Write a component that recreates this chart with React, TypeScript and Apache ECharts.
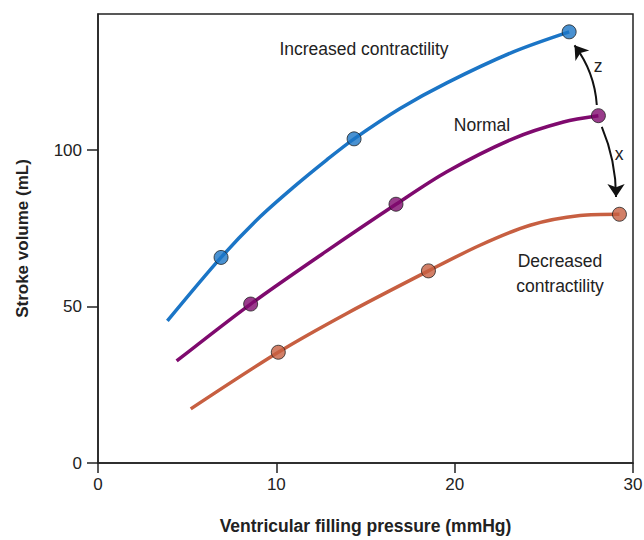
import React, { useEffect, useRef } from "react";
import * as echarts from "echarts";

// Curve points (x: mmHg, y: mL)
const increasedCurve: [number, number][] = [
  [3.89, 45.4], [6.9, 65.7], [9.09, 78.7], [10.95, 88.1], [12.83, 96.9], [14.36, 103.6],
  [16.94, 113.3], [19.56, 121.5], [23.29, 131.4], [26.42, 137.8],
];
const increasedMarkers: [number, number][] = [[6.9, 65.7], [14.36, 103.6], [26.42, 137.8]];

const normalCurve: [number, number][] = [
  [4.41, 32.6], [8.56, 50.8], [12.83, 67.8], [16.71, 82.7], [19.56, 93.1], [23.29, 103.7], [26.1, 109.0], [28.06, 111.0],
];
const normalMarkers: [number, number][] = [[8.56, 50.8], [16.71, 82.7], [28.06, 111.0]];

const decreasedCurve: [number, number][] = [
  [5.2, 17.3], [10.11, 35.4], [13.95, 47.8], [18.53, 61.4], [21.42, 69.6], [24.23, 76.0], [27.03, 79.1], [29.24, 79.5],
];
const decreasedMarkers: [number, number][] = [[10.11, 35.4], [18.53, 61.4], [29.24, 79.5]];

// Arrows (from, to) in data coordinates
const arrowZ: [number, number][] = [[27.97, 114.4], [26.72, 133.5]];
const arrowX: [number, number][] = [[28.25, 107.4], [29.05, 85.0]];

const xTicks = [0, 10, 20, 30];
const yTicks = [0, 50, 100];

const FONT = "'Liberation Sans', Arial, sans-serif";
const BLUE = "#1b75c6";
const PURPLE = "#7f0a6e";
const ORANGE = "#c75f41";

export default function App() {
  const ref = useRef<HTMLDivElement>(null);
  useEffect(() => {
    if (!ref.current) return;
    const chart = echarts.init(ref.current, undefined, { renderer: "svg" });
    const curve = (name: string, data: [number, number][], color: string) => ({
      type: "line",
      name,
      data,
      smooth: 0.3,
      symbol: "none",
      lineStyle: { color, width: 3.5 },
      z: 2,
    });
    const markers = (name: string, data: [number, number][], color: string) => ({
      type: "scatter",
      name,
      data,
      symbol: "circle",
      symbolSize: 14,
      itemStyle: { color, borderColor: "#222", borderWidth: 1 },
      z: 3,
    });
    const arrow = (data: [number, number][], curveness: number) => ({
      type: "lines",
      coordinateSystem: "cartesian2d",
      data: [{ coords: data }],
      symbol: ["none", "arrow"],
      symbolSize: [9, 13],
      lineStyle: { color: "#111", width: 2, curveness, opacity: 1 },
      z: 4,
    });
    const label = (text: string, x: number, y: number) => ({
      type: "text",
      x,
      y,
      style: { text, fontFamily: FONT, fontSize: 17.5, fill: "#222", align: "center", verticalAlign: "middle" },
    });
    chart.setOption({
      animation: false,
      textStyle: { fontFamily: FONT },
      grid: {
        left: 98,
        right: 11,
        top: 14,
        bottom: 77,
        show: true,
        borderColor: "#222",
        borderWidth: 1.5,
        backgroundColor: "transparent",
        containLabel: false,
        outerBoundsMode: "none",
      },
      xAxis: {
        type: "value",
        min: 0,
        max: 30,
        interval: 10,
        name: "Ventricular filling pressure (mmHg)",
        nameLocation: "middle",
        nameGap: 54,
        nameTextStyle: { fontFamily: FONT, fontSize: 17.5, fontWeight: "bold", color: "#222" },
        axisLine: { show: true, lineStyle: { color: "#222", width: 1.5 } },
        axisTick: { show: true, length: 10, lineStyle: { color: "#222", width: 1.5 }, customValues: xTicks },
        axisLabel: { fontFamily: FONT, fontSize: 17, color: "#222", margin: 13, customValues: xTicks },
        splitLine: { show: false },
      },
      yAxis: {
        type: "value",
        min: 0,
        max: 143.5,
        name: "Stroke volume (mL)",
        nameLocation: "middle",
        nameGap: 67,
        nameRotate: 90,
        nameTextStyle: { fontFamily: FONT, fontSize: 17, fontWeight: "bold", color: "#222" },
        axisLine: { show: true, lineStyle: { color: "#222", width: 1.5 } },
        axisTick: { show: true, length: 11, lineStyle: { color: "#222", width: 1.5 }, customValues: yTicks },
        axisLabel: { fontFamily: FONT, fontSize: 17, color: "#222", margin: 16, customValues: yTicks },
        splitLine: { show: false },
      },
      series: [
        curve("Increased contractility", increasedCurve, BLUE),
        curve("Normal", normalCurve, PURPLE),
        curve("Decreased contractility", decreasedCurve, ORANGE),
        markers("Increased markers", increasedMarkers, BLUE),
        markers("Normal markers", normalMarkers, PURPLE),
        markers("Decreased markers", decreasedMarkers, ORANGE),
        arrow(arrowZ, -0.15),
        arrow(arrowX, 0.1),
      ],
      graphic: [
        label("Increased contractility", 364, 49),
        label("Normal", 482, 125),
        label("Decreased", 560, 261),
        label("contractility", 560, 286),
        label("z", 598, 66),
        label("x", 619, 154),
      ],
    });
    return () => chart.dispose();
  }, []);
  return <div ref={ref} style={{ width: 644, height: 540, position: "absolute", left: 0, top: 0 }} />;
}
